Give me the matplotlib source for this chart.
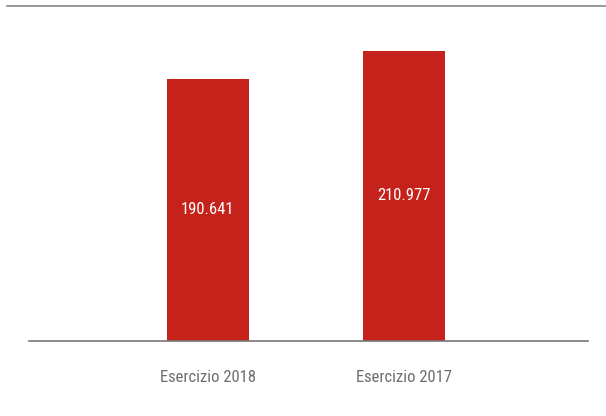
import matplotlib.pyplot as plt
from matplotlib.lines import Line2D

categories = ['Esercizio 2018', 'Esercizio 2017']
values = [190641, 210977]
labels = ['190.641', '210.977']

W, H = 606, 416
fig = plt.figure(figsize=(W / 100, H / 100), dpi=100)
ax = fig.add_axes([29 / W, (H - 341) / H, (588 - 29) / W, (341 - 6) / H])

red = '#c5221b'
x = [0.3202, 0.6708]
ax.bar(x, values, width=0.145, color=red)
ax.set_xlim(0, 1)
ax.set_ylim(0, 243500)

font = ['Liberation Sans Narrow', 'Roboto Condensed', 'Roboto', 'DejaVu Sans']
for xi, v, lab in zip(x, values, labels):
    ax.text(xi, v / 2, lab, ha='center', va='center', color='white',
            fontsize=12, family=font)

ax.set_xticks(x)
ax.set_xticklabels(categories, family=font, fontsize=12, color='#6d6d6d')
ax.tick_params(axis='x', length=0, pad=21)
ax.set_yticks([])
for s in ['top', 'left', 'right']:
    ax.spines[s].set_visible(False)
ax.spines['bottom'].set_color('#777777')
ax.spines['bottom'].set_linewidth(1.2)

# thin rule across the top
fig.add_artist(Line2D([7 / W, 1], [(H - 6) / H] * 2, color='#888888', lw=1.2))

fig.savefig('out.png', dpi=100)
